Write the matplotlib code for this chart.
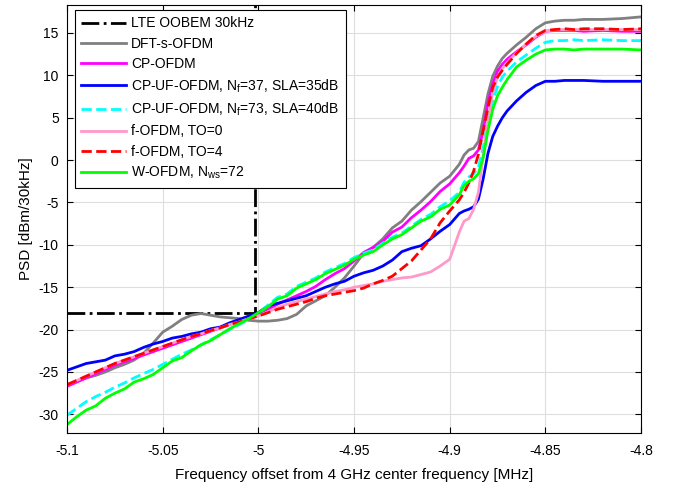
import numpy as np
import matplotlib
matplotlib.use('Agg')
import matplotlib.pyplot as plt

# frequency grid [MHz]: 5 kHz steps, finer on the steep edge
freq = np.concatenate([np.round(np.arange(-5.1, -4.8949, 0.005), 4),
                       [-4.8925, -4.89, -4.8875, -4.885, -4.8825, -4.88, -4.8775,
                        -4.875, -4.8725, -4.87, -4.865, -4.86, -4.855, -4.85,
                        -4.845, -4.84, -4.835, -4.83, -4.82, -4.81, -4.80]])

# LTE out-of-band emission mask
mask_freq = [-5.1, -5.0015, -5.0015]
mask_psd = [-18, -18, 30]

psd_dft = [-26.5, -26.1, -25.7, -25.4, -25.0, -24.5, -24.1, -23.6, -22.8, -21.6,
           -20.3, -19.6, -18.8, -18.3, -18.1, -18.3, -18.5, -18.6, -18.7, -18.9,
           -19.0, -19.0, -18.9, -18.7, -18.2, -17.2, -16.6, -16.0, -15.0, -13.9,
           -12.5, -11.0, -10.3, -9.3, -8.0, -7.2, -5.9, -4.9, -3.8, -2.7,
           -1.9, -0.5,
           0.6, 1.2, 1.4, 2.2, 5.0, 7.8, 9.9, 11.1, 12.0, 12.6, 13.6, 14.5, 15.5, 16.2,
           16.4, 16.5, 16.5, 16.6, 16.6, 16.7, 16.9]

psd_cp = [-26.7, -26.2, -25.7, -25.2, -24.7, -24.2, -23.8, -23.4, -23.0, -22.6,
          -22.2, -21.8, -21.4, -21.0, -20.6, -20.2, -19.8, -19.4, -19.0, -18.7,
          -18.3, -17.6, -17.0, -16.5, -16.0, -15.5, -14.9, -14.1, -13.4, -12.8,
          -11.9, -10.9, -10.3, -9.6, -8.5, -7.9, -6.8, -5.9, -4.9, -3.7,
          -2.8, -1.5,
          -0.7, 0.2, 0.5, 1.2, 3.5, 6.8, 9.0, 10.5, 11.3, 11.9, 12.8, 13.6, 14.5, 15.2,
          15.3, 15.3, 15.3, 15.2, 15.3, 15.2, 15.2]

psd_uf37 = [-24.8, -24.4, -24.0, -23.8, -23.6, -23.1, -22.9, -22.6, -22.1, -21.7,
            -21.4, -21.0, -20.8, -20.5, -20.3, -19.9, -19.7, -19.2, -18.8, -18.4,
            -18.0, -17.2, -16.9, -16.6, -16.3, -16.0, -15.5, -15.0, -14.6, -14.3,
            -13.7, -13.3, -13.0, -12.5, -11.8, -10.8, -10.4, -10.1, -9.3, -8.4,
            -7.6, -6.3,
            -6.0, -5.8, -5.5, -4.6, -2.2, 0.8, 2.8, 4.0, 5.0, 5.8, 7.0, 8.0, 8.8, 9.3,
            9.3, 9.4, 9.4, 9.4, 9.3, 9.3, 9.3]

psd_uf73 = [-30.1, -29.3, -28.5, -27.9, -27.4, -26.8, -26.3, -25.7, -25.2, -24.7,
            -24.1, -23.5, -22.9, -22.4, -21.8, -21.2, -20.6, -20.0, -19.4, -18.8,
            -18.2, -17.1, -16.2, -15.8, -14.9, -14.4, -13.9, -13.2, -12.7, -12.2,
            -11.5, -11.0, -10.6, -9.8, -9.1, -8.6, -7.8, -7.0, -6.4, -5.5,
            -4.8, -3.8,
            -2.6, -2.0, -1.6, -0.9, 1.5, 4.8, 7.0, 8.7, 9.8, 10.5, 11.6, 12.4, 13.2, 13.9,
            14.1, 14.1, 14.2, 14.1, 14.2, 14.1, 14.1]

psd_f0 = [-26.5, -26.0, -25.5, -25.0, -24.5, -24.0, -23.6, -23.2, -22.8, -22.4,
          -22.0, -21.6, -21.2, -20.8, -20.5, -20.1, -19.8, -19.4, -19.1, -18.7,
          -18.4, -17.9, -17.4, -17.0, -16.7, -16.4, -16.1, -15.8, -15.5, -15.3,
          -15.0, -14.8, -14.6, -14.3, -14.1, -13.9, -13.8, -13.5, -13.2, -12.5,
          -11.7, -8.5,
          -7.2, -6.9, -5.8, -3.8, 0.5, 4.8, 8.0, 9.8, 10.8, 11.5, 12.7, 13.7, 14.6, 15.2,
          15.4, 15.4, 15.4, 15.4, 15.4, 15.4, 15.4]

psd_f4 = [-26.5, -26.0, -25.5, -25.0, -24.5, -24.0, -23.6, -23.2, -22.8, -22.4,
          -22.0, -21.6, -21.2, -20.8, -20.5, -20.1, -19.8, -19.4, -19.1, -18.7,
          -18.4, -18.0, -17.6, -17.3, -17.0, -16.7, -16.3, -16.0, -15.8, -15.6,
          -15.4, -15.1, -14.6, -14.2, -13.7, -12.8, -11.9, -10.6, -9.3, -7.4,
          -6.0, -4.7,
          -3.8, -2.7, -1.3, 0.7, 3.5, 6.2, 8.6, 9.8, 10.6, 11.3, 12.6, 13.7, 14.7, 15.3,
          15.4, 15.5, 15.4, 15.5, 15.5, 15.4, 15.5]

psd_w = [-31.2, -30.3, -29.5, -29.0, -28.1, -27.5, -27.0, -26.2, -25.8, -25.3,
         -24.5, -23.7, -23.3, -22.5, -21.8, -21.3, -20.6, -19.9, -19.3, -18.7,
         -18.0, -17.3, -16.4, -16.0, -15.1, -14.6, -14.1, -13.4, -12.9, -12.4,
         -11.7, -11.2, -10.8, -10.0, -9.3, -8.8, -8.0, -7.2, -6.7, -5.8,
         -5.3, -4.1,
         -3.0, -2.5, -2.2, -1.6, 0.3, 3.5, 6.0, 7.6, 8.6, 9.5, 11.0, 11.8, 12.5, 13.0,
         13.1, 13.1, 13.0, 13.1, 13.1, 13.1, 13.0]

plt.rcParams['font.family'] = ['Liberation Sans', 'DejaVu Sans']
plt.rcParams['mathtext.default'] = 'regular'

fig = plt.figure(figsize=(6.75, 4.91), dpi=100)
ax = fig.add_axes([0.0993, 0.1181, 0.8504, 0.8717])

lw = 2
ax.plot(mask_freq, mask_psd, color='k', ls='-.', lw=lw, label='LTE OOBEM 30kHz')
ax.plot(freq, psd_dft, color=(0.5, 0.5, 0.5), lw=lw, label='DFT-s-OFDM')
ax.plot(freq, psd_cp, color=(1, 0, 1), lw=lw, label='CP-OFDM')
ax.plot(freq, psd_uf37, color=(0, 0, 1), lw=lw, label='CP-UF-OFDM, N$_f$=37, SLA=35dB')
ax.plot(freq, psd_uf73, color=(0, 1, 1), ls='--', lw=lw, label='CP-UF-OFDM, N$_f$=73, SLA=40dB')
ax.plot(freq, psd_f0, color=(1, 0.6, 0.8), lw=lw, label='f-OFDM, TO=0')
ax.plot(freq, psd_f4, color=(1, 0, 0), ls='--', lw=lw, label='f-OFDM, TO=4')
ax.plot(freq, psd_w, color=(0, 1, 0), lw=lw, label='W-OFDM, N$_{ws}$=72')

ax.set_xlim(-5.1, -4.8)
ax.set_ylim(-32.2, 18.3)
ax.set_xticks([-5.1, -5.05, -5.0, -4.95, -4.9, -4.85, -4.8])
ax.set_xticklabels(['-5.1', '-5.05', '-5', '-4.95', '-4.9', '-4.85', '-4.8'])
ax.set_yticks([-30, -25, -20, -15, -10, -5, 0, 5, 10, 15])
ax.set_yticklabels(['-30', '-25', '-20', '-15', '-10', '-5', '0', '5', '10', '15'])
ax.tick_params(direction='in', top=True, right=True, labelsize=10, length=4)
ax.tick_params(axis='x', pad=8)
ax.tick_params(axis='y', pad=6)
ax.grid(True, color=(0.87, 0.87, 0.87), lw=0.8)
ax.set_axisbelow(True)
ax.set_xlabel('Frequency offset from 4 GHz center frequency [MHz]', fontsize=11, labelpad=7)
ax.set_ylabel('PSD [dBm/30kHz]', fontsize=11, labelpad=4)

leg = ax.legend(loc='upper left', bbox_to_anchor=(0.014, 0.988), borderaxespad=0,
                fontsize=10, handlelength=3.2, handletextpad=0.4,
                labelspacing=0.45, borderpad=0.45,
                fancybox=False, framealpha=1, edgecolor='k')
leg.get_frame().set_linewidth(0.8)

plt.savefig('out.png', dpi=100)
